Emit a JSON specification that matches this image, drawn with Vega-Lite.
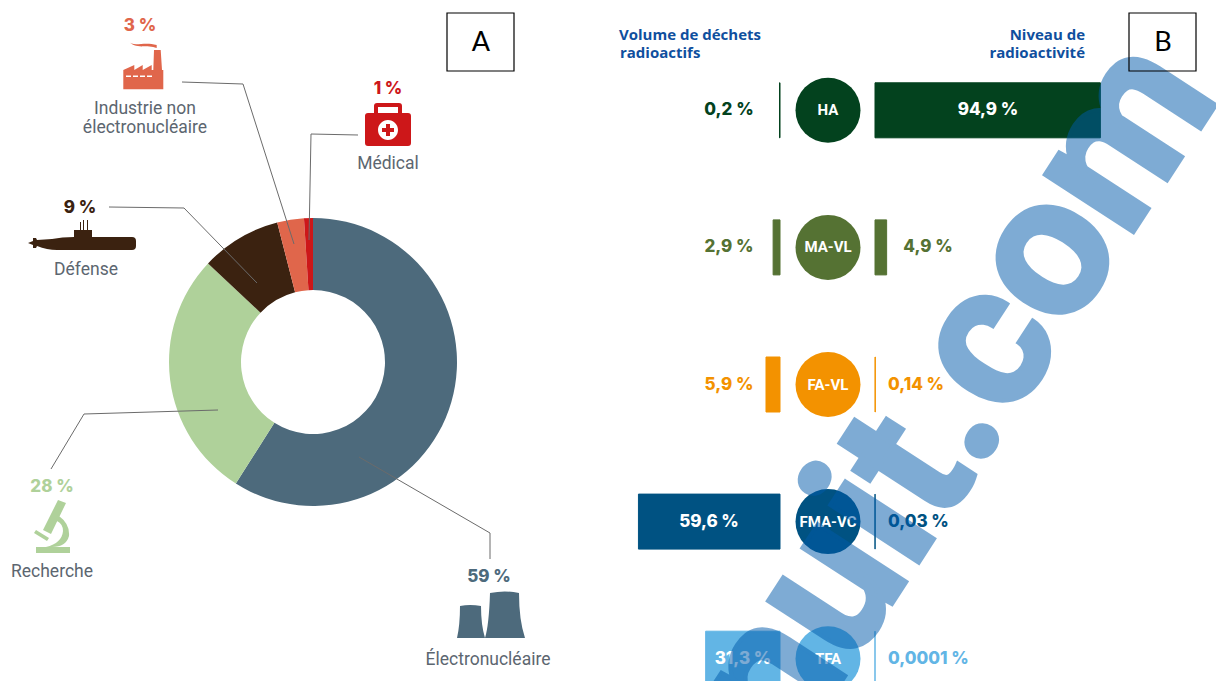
{"$schema":"https://vega.github.io/schema/vega-lite/v6.json","width":1216,"height":681,"padding":0,"autosize":{"type":"none"},"background":"white","config":{"view":{"stroke":null},"axis":{"disable":true},"legend":{"disable":true}},
"datasets":{"sectors":[{"sector":"Électronucléaire","share":59,"shareLabel":"59 %","rank":1,"name":"Électronucléaire"},{"sector":"Recherche","share":28,"shareLabel":"28 %","rank":2,"name":"Recherche"},{"sector":"Défense","share":9,"shareLabel":"9 %","rank":3,"name":"Défense"},{"sector":"Industrie non électronucléaire","share":3,"shareLabel":"3 %","rank":4,"name":"Industrie non|électronucléaire"},{"sector":"Médical","share":1,"shareLabel":"1 %","rank":5,"name":"Médical"}],
"waste":[{"category":"HA","volume":0.2,"activity":94.9,"volumeLabel":"0,2 %","activityLabel":"94,9 %"},{"category":"MA-VL","volume":2.9,"activity":4.9,"volumeLabel":"2,9 %","activityLabel":"4,9 %"},{"category":"FA-VL","volume":5.9,"activity":0.14,"volumeLabel":"5,9 %","activityLabel":"0,14 %"},{"category":"FMA-VC","volume":59.6,"activity":0.03,"volumeLabel":"59,6 %","activityLabel":"0,03 %"},{"category":"TFA","volume":31.3,"activity":0.0001,"volumeLabel":"31,3 %","activityLabel":"0,0001 %"}],
"notes":[{"note":"A"},{"note":"B"},{"note":"Volume de déchets"},{"note":"radioactifs"},{"note":"Niveau  de"},{"note":"radioactivité"},{"note":"nuit.com"}]},
"resolve":{"scale":{"x":"independent","y":"independent","color":"independent"}},
"layer":[
{"data":{"name":"sectors"},"layer":[
{"mark":{"type":"arc","outerRadius":144,"innerRadius":72},"encoding":{"x":{"datum":313,"scale":{"domain":[0,1000],"range":[0,1000],"nice":false,"zero":false}},"y":{"datum":362,"scale":{"domain":[0,1000],"range":[0,1000],"nice":false,"zero":false}},"theta":{"field":"share","type":"quantitative","stack":true},"order":{"field":"rank"},"color":{"field":"sector","type":"nominal","scale":{"domain":["Électronucléaire","Recherche","Défense","Industrie non électronucléaire","Médical"],"range":["#4d6a7c","#afd19a","#3b2210","#e0664b","#cd1719"]}}}},
{"transform":[{"filter":"datum.rank==1"}],"layer":[
{"mark":{"type":"rule","color":"#6b6b6b","strokeWidth":1},"encoding":{"x":{"datum":359},"y":{"datum":457},"x2":{"datum":490},"y2":{"datum":533}}},
{"mark":{"type":"rule","color":"#6b6b6b","strokeWidth":1},"encoding":{"x":{"datum":490},"y":{"datum":533},"x2":{"datum":490},"y2":{"datum":559}}},
{"mark":{"type":"text","font":"Inter","fontSize":17,"fontWeight":800,"color":"#4d6a7c"},"encoding":{"text":{"field":"shareLabel"},"x":{"datum":489},"y":{"datum":577}}},
{"mark":{"type":"point","filled":true,"opacity":1,"size":4,"color":"#4d6a7c","shape":"M-30,-9 Q-20,-11 -9,-9 Q-9,10 -5,23 L-33,23 Q-30,10 -30,-9Z M0,-22 Q15,-25 29,-22 Q29,5 35,23 L-5,23 Q-1,10 0,-22Z"},"encoding":{"x":{"datum":490},"y":{"datum":615}}},
{"mark":{"type":"text","font":"Roboto","fontSize":17.5,"color":"#5c6670"},"encoding":{"text":{"field":"name"},"x":{"datum":488},"y":{"datum":660}}}]},
{"transform":[{"filter":"datum.rank==2"}],"layer":[
{"mark":{"type":"rule","color":"#6b6b6b","strokeWidth":1},"encoding":{"x":{"datum":218},"y":{"datum":410},"x2":{"datum":84},"y2":{"datum":414}}},
{"mark":{"type":"rule","color":"#6b6b6b","strokeWidth":1},"encoding":{"x":{"datum":84},"y":{"datum":414},"x2":{"datum":51},"y2":{"datum":469}}},
{"mark":{"type":"text","font":"Inter","fontSize":17,"fontWeight":800,"color":"#afd19a"},"encoding":{"text":{"field":"shareLabel"},"x":{"datum":52},"y":{"datum":487}}},
{"mark":{"type":"point","filled":true,"opacity":1,"size":4,"color":"#afd19a","shape":"M-16,20 L18,20 L18,26 L-16,26Z M6,-27 L14,-24 L-1,7 L-9,3Z M-18,6 L-16,3 L-3,11 L-5,14Z M7,-11 Q18,-3 17,9 Q14,20 0,20 L-6,20 Q10,16 11,4 Q11,-3 5,-6Z"},"encoding":{"x":{"datum":52},"y":{"datum":527}}},
{"mark":{"type":"text","font":"Roboto","fontSize":17.5,"color":"#5c6670"},"encoding":{"text":{"field":"name"},"x":{"datum":52},"y":{"datum":572}}}]},
{"transform":[{"filter":"datum.rank==3"}],"layer":[
{"mark":{"type":"rule","color":"#6b6b6b","strokeWidth":1},"encoding":{"x":{"datum":109},"y":{"datum":207},"x2":{"datum":184},"y2":{"datum":208}}},
{"mark":{"type":"rule","color":"#6b6b6b","strokeWidth":1},"encoding":{"x":{"datum":184},"y":{"datum":208},"x2":{"datum":257},"y2":{"datum":283}}},
{"mark":{"type":"text","font":"Inter","fontSize":17,"fontWeight":800,"color":"#3b2210"},"encoding":{"text":{"field":"shareLabel"},"x":{"datum":80},"y":{"datum":208}}},
{"mark":{"type":"point","filled":true,"opacity":1,"size":4,"color":"#3b2210","shape":"M-54,8 L-49,6 L-49,3 L-46,3 L-45,5 L-30,4 Q-20,2 -8,2 L-8,-5 L10,-5 L10,2 L50,2 Q54,2 54,6 L54,11 Q54,15 50,15 L-25,15 Q-35,15 -45,11 L-46,13 L-49,13 L-49,10Z M-2,-13 L-1,-13 L-1,-5 L-2,-5Z M1,-15 L2,-15 L2,-5 L1,-5Z M5,-15 L6,-15 L6,-5 L5,-5Z"},"encoding":{"x":{"datum":82},"y":{"datum":235}}},
{"mark":{"type":"text","font":"Roboto","fontSize":17.5,"color":"#5c6670"},"encoding":{"text":{"field":"name"},"x":{"datum":86},"y":{"datum":270}}}]},
{"transform":[{"filter":"datum.rank==4"}],"layer":[
{"mark":{"type":"rule","color":"#6b6b6b","strokeWidth":1},"encoding":{"x":{"datum":182},"y":{"datum":82},"x2":{"datum":243},"y2":{"datum":84}}},
{"mark":{"type":"rule","color":"#6b6b6b","strokeWidth":1},"encoding":{"x":{"datum":243},"y":{"datum":84},"x2":{"datum":294},"y2":{"datum":244}}},
{"mark":{"type":"text","font":"Inter","fontSize":17,"fontWeight":800,"color":"#e0664b"},"encoding":{"text":{"field":"shareLabel"},"x":{"datum":140},"y":{"datum":26}}},
{"mark":{"type":"point","filled":true,"opacity":1,"size":4,"color":"#e0664b","shape":"M-19.7,5 L-8.7,0 L-8.7,5 L-0.3,0 L-0.3,5 L8.7,0 L8.7,5 L10.3,5 L11,-15 L17.7,-15 L19,5 L20.3,5 L20.3,24.3 L-19.7,24.3Z M-17,10.5 L-17,12 L-12,12 L-12,10.5Z M-10,10.5 L-10,12 L-5,12 L-5,10.5Z M-3,10.5 L-3,12 L2,12 L2,10.5Z M4,10.5 L4,12 L9,12 L9,10.5Z M-14.7,-24.3 C-10,-17 0,-24 13.7,-20 L13.7,-17 C5,-21 -8,-15 -14.7,-24.3Z"},"encoding":{"x":{"datum":143},"y":{"datum":65}}},
{"mark":{"type":"text","font":"Roboto","fontSize":17.5,"color":"#5c6670","lineBreak":"|","lineHeight":19},"encoding":{"text":{"field":"name"},"x":{"datum":145},"y":{"datum":109}}}]},
{"transform":[{"filter":"datum.rank==5"}],"layer":[
{"mark":{"type":"rule","color":"#6b6b6b","strokeWidth":1},"encoding":{"x":{"datum":358},"y":{"datum":135},"x2":{"datum":311},"y2":{"datum":134}}},
{"mark":{"type":"rule","color":"#6b6b6b","strokeWidth":1},"encoding":{"x":{"datum":311},"y":{"datum":134},"x2":{"datum":309},"y2":{"datum":240}}},
{"mark":{"type":"text","font":"Inter","fontSize":17,"fontWeight":800,"color":"#cd1719"},"encoding":{"text":{"field":"shareLabel"},"x":{"datum":388},"y":{"datum":89}}},
{"mark":{"type":"point","filled":true,"opacity":1,"size":4,"color":"#cd1719","shape":"M-20,-12 L20,-12 Q23,-12 23,-9 L23,18 Q23,21 20,21 L-20,21 Q-23,21 -23,18 L-23,-9 Q-23,-12 -20,-12Z M-14,-12 L-14,-19 Q-14,-22 -11,-22 L11,-22 Q14,-22 14,-19 L14,-12 L10,-12 L10,-18 L-10,-18 L-10,-12Z M-10,5 A10,10 0 0 0 10,5 A10,10 0 0 0 -10,5Z M-2,-1 L2,-1 L2,3 L6,3 L6,7 L2,7 L2,11 L-2,11 L-2,7 L-6,7 L-6,3 L-2,3Z"},"encoding":{"x":{"datum":388},"y":{"datum":125}}},
{"mark":{"type":"text","font":"Roboto","fontSize":17.5,"color":"#5c6670"},"encoding":{"text":{"field":"name"},"x":{"datum":388},"y":{"datum":164}}}]}
]},
{"data":{"name":"waste"},"mark":{"type":"bar","size":55,"strokeWidth":1,"strokeJoin":"miter"},"encoding":{"x":{"field":"volume","type":"quantitative","scale":{"domain":[0,100],"range":[780,542.5],"nice":false,"zero":false}},"y":{"field":"category","type":"nominal","scale":{"type":"point","domain":["HA","MA-VL","FA-VL","FMA-VC","TFA"],"range":[110.3,658.7],"padding":0}},"color":{"field":"category","type":"nominal","scale":{"domain":["HA","MA-VL","FA-VL","FMA-VC","TFA"],"range":["#03421e","#557233","#f39200","#005282","#62b5e5"]}},"stroke":{"field":"category","type":"nominal","scale":{"domain":["HA","MA-VL","FA-VL","FMA-VC","TFA"],"range":["#03421e","#557233","#f39200","#005282","#62b5e5"]}}}},
{"data":{"name":"waste"},"mark":{"type":"bar","size":55,"strokeWidth":1,"strokeJoin":"miter"},"encoding":{"x":{"field":"activity","type":"quantitative","scale":{"domain":[0,100],"range":[875,1112.5],"nice":false,"zero":false}},"y":{"field":"category","type":"nominal","scale":{"type":"point","domain":["HA","MA-VL","FA-VL","FMA-VC","TFA"],"range":[110.3,658.7],"padding":0}},"color":{"field":"category","type":"nominal","scale":{"domain":["HA","MA-VL","FA-VL","FMA-VC","TFA"],"range":["#03421e","#557233","#f39200","#005282","#62b5e5"]}},"stroke":{"field":"category","type":"nominal","scale":{"domain":["HA","MA-VL","FA-VL","FMA-VC","TFA"],"range":["#03421e","#557233","#f39200","#005282","#62b5e5"]}}}},
{"data":{"name":"waste"},"encoding":{"y":{"field":"category","type":"nominal","scale":{"type":"point","domain":["HA","MA-VL","FA-VL","FMA-VC","TFA"],"range":[110.3,658.7],"padding":0}},"color":{"field":"category","type":"nominal","scale":{"domain":["HA","MA-VL","FA-VL","FMA-VC","TFA"],"range":["#03421e","#557233","#f39200","#005282","#62b5e5"]}}},"layer":[
{"mark":{"type":"circle","size":4225,"opacity":1},"encoding":{"x":{"datum":828,"scale":{"domain":[0,1000],"range":[0,1000],"nice":false,"zero":false}}}},
{"mark":{"type":"text","font":"Roboto","fontWeight":"bold","fontSize":15,"color":"white"},"encoding":{"text":{"field":"category"},"x":{"datum":828},"color":{"value":"white"}}},
{"transform":[{"filter":"datum.volume<10"}],"mark":{"type":"text","font":"Inter","fontWeight":800,"fontSize":17},"encoding":{"text":{"field":"volumeLabel"},"x":{"datum":729}}},
{"transform":[{"filter":"datum.category=='FMA-VC'"}],"mark":{"type":"text","font":"Inter","fontWeight":800,"fontSize":17},"encoding":{"text":{"field":"volumeLabel"},"x":{"datum":709},"color":{"value":"white"}}},
{"transform":[{"filter":"datum.category=='TFA'"}],"mark":{"type":"text","font":"Inter","fontWeight":800,"fontSize":17},"encoding":{"text":{"field":"volumeLabel"},"x":{"datum":743},"color":{"value":"white"}}},
{"transform":[{"filter":"datum.category=='HA'"}],"mark":{"type":"text","font":"Inter","fontWeight":800,"fontSize":17},"encoding":{"text":{"field":"activityLabel"},"x":{"datum":988},"color":{"value":"white"}}},
{"transform":[{"filter":"datum.category=='MA-VL'"}],"mark":{"type":"text","font":"Inter","fontWeight":800,"fontSize":17},"encoding":{"text":{"field":"activityLabel"},"x":{"datum":928}}},
{"transform":[{"filter":"datum.activity<1"}],"mark":{"type":"text","font":"Inter","fontWeight":800,"fontSize":17,"align":"left"},"encoding":{"text":{"field":"activityLabel"},"x":{"datum":888}}}
]},
{"data":{"name":"notes"},"layer":[
{"transform":[{"filter":"datum.note=='Volume de déchets'"}],"mark":{"type":"text","font":"Open Sans","fontWeight":"bold","fontSize":15,"align":"left","color":"#0f4f9e"},"encoding":{"text":{"field":"note"},"x":{"datum":619,"scale":{"domain":[0,1000],"range":[0,1000],"nice":false,"zero":false}},"y":{"datum":35,"scale":{"domain":[0,1000],"range":[0,1000],"nice":false,"zero":false}}}},
{"transform":[{"filter":"datum.note=='radioactifs'"}],"mark":{"type":"text","font":"Open Sans","fontWeight":"bold","fontSize":15,"align":"left","color":"#0f4f9e"},"encoding":{"text":{"field":"note"},"x":{"datum":620},"y":{"datum":53}}},
{"transform":[{"filter":"datum.note=='Niveau  de'"}],"mark":{"type":"text","font":"Open Sans","fontWeight":"bold","fontSize":15,"align":"right","color":"#0f4f9e"},"encoding":{"text":{"field":"note"},"x":{"datum":1085},"y":{"datum":35}}},
{"transform":[{"filter":"datum.note=='radioactivité'"}],"mark":{"type":"text","font":"Open Sans","fontWeight":"bold","fontSize":15,"align":"right","color":"#0f4f9e"},"encoding":{"text":{"field":"note"},"x":{"datum":1085},"y":{"datum":53}}},
{"transform":[{"filter":"datum.note=='nuit.com'"}],"mark":{"type":"text","font":"Roboto","fontWeight":"bold","fontSize":200,"align":"left","baseline":"alphabetic","angle":-57,"color":"#005aaa","opacity":0.5,"stroke":"#005aaa","strokeWidth":4},"encoding":{"text":{"field":"note"},"x":{"datum":790},"y":{"datum":761}}},
{"transform":[{"filter":"datum.note=='A'"}],"layer":[
{"mark":{"type":"rect","filled":false,"stroke":"black","strokeWidth":1.2},"encoding":{"x":{"datum":447},"x2":{"datum":514},"y":{"datum":13},"y2":{"datum":71}}},
{"mark":{"type":"text","font":"Lato","fontSize":27,"color":"black"},"encoding":{"text":{"field":"note"},"x":{"datum":481},"y":{"datum":43}}}]},
{"transform":[{"filter":"datum.note=='B'"}],"layer":[
{"mark":{"type":"rect","filled":false,"stroke":"black","strokeWidth":1.2},"encoding":{"x":{"datum":1129},"x2":{"datum":1196},"y":{"datum":13},"y2":{"datum":71}}},
{"mark":{"type":"text","font":"Lato","fontSize":27,"color":"black"},"encoding":{"text":{"field":"note"},"x":{"datum":1163},"y":{"datum":43}}}]}
]}
]}
